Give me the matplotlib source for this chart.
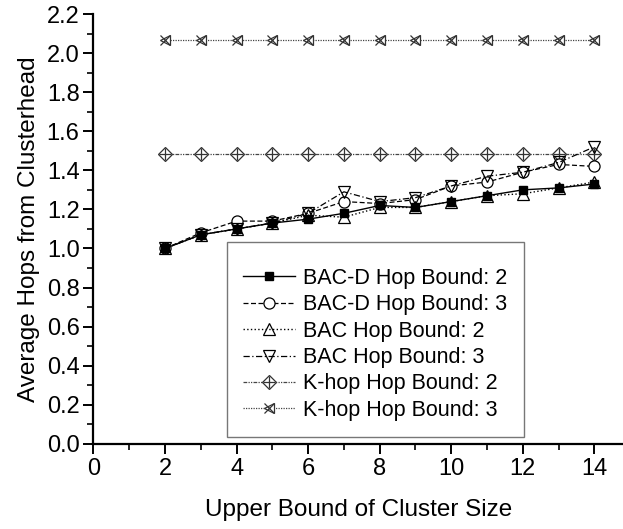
import matplotlib
matplotlib.use("Agg")
import matplotlib.pyplot as plt
from matplotlib.ticker import MultipleLocator, FormatStrFormatter

plt.rcParams['font.family'] = ['Liberation Sans', 'DejaVu Sans']

# Dados
cluster_size = [2, 3, 4, 5, 6, 7, 8, 9, 10, 11, 12, 13, 14]
bacd_hb2 = [1.00, 1.07, 1.10, 1.13, 1.15, 1.18, 1.22, 1.21, 1.24, 1.27, 1.30, 1.31, 1.33]
bacd_hb3 = [1.00, 1.08, 1.14, 1.14, 1.18, 1.24, 1.23, 1.25, 1.32, 1.34, 1.39, 1.43, 1.42]
bac_hb2 = [1.00, 1.07, 1.10, 1.13, 1.17, 1.16, 1.21, 1.21, 1.24, 1.27, 1.28, 1.31, 1.34]
bac_hb3 = [1.00, 1.07, 1.10, 1.13, 1.18, 1.29, 1.24, 1.26, 1.32, 1.37, 1.39, 1.44, 1.52]
khop_hb2 = [1.485] * 13
khop_hb3 = [2.065] * 13

fig = plt.figure(figsize=(6.23, 5.29), dpi=100)
ax = fig.add_axes([0.150, 0.161, 0.850, 0.8125])

ms = 7
ax.plot(cluster_size, bacd_hb2, '-', color='black', lw=1.0, marker='s', ms=ms - 1,
        mfc='black', mec='black', label='BAC-D Hop Bound: 2', zorder=5)
ax.plot(cluster_size, bacd_hb3, '--', color='black', lw=0.9, dashes=(4, 2), marker='o', ms=ms + 1,
        mfc='white', mec='black', mew=0.9, label='BAC-D Hop Bound: 3', zorder=4)
ax.plot(cluster_size, bac_hb2, ':', color='black', lw=1.0, marker='^', ms=ms + 1,
        mfc='none', mec='black', mew=0.9, label='BAC Hop Bound: 2', zorder=6)
ax.plot(cluster_size, bac_hb3, '-.', color='black', lw=0.9, dashes=(5, 2, 1, 2), marker='v', ms=ms + 1,
        mfc='none', mec='black', mew=0.9, label='BAC Hop Bound: 3', zorder=6)

# K-hop: losango com cruz, e X dentro de triângulo
ax.plot(cluster_size, khop_hb2, color='#444444', lw=0.9, dashes=(3, 1, 1, 1, 1, 1), marker='D',
        ms=ms, mfc='white', mec='#333333', mew=0.9, zorder=3)
ax.plot(cluster_size, khop_hb2, 'none', marker='+', ms=ms + 1, mec='#333333', mew=0.9, zorder=3)
ax.plot(cluster_size, khop_hb3, color='#444444', lw=0.9, dashes=(1, 1), marker='<',
        ms=ms, mfc='white', mec='#333333', mew=0.9, zorder=3)
ax.plot(cluster_size, khop_hb3, 'none', marker='x', ms=ms, mec='#333333', mew=0.9, zorder=3)

# Entradas da legenda para K-hop (marcadores compostos)
h_k2a, = ax.plot([], [], color='#444444', lw=0.9, dashes=(3, 1, 1, 1, 1, 1), marker='D',
                 ms=ms, mfc='white', mec='#333333', mew=0.9)
h_k2b, = ax.plot([], [], 'none', marker='+', ms=ms + 1, mec='#333333', mew=0.9)
h_k3a, = ax.plot([], [], color='#444444', lw=0.9, dashes=(1, 1), marker='<',
                 ms=ms, mfc='white', mec='#333333', mew=0.9)
h_k3b, = ax.plot([], [], 'none', marker='x', ms=ms, mec='#333333', mew=0.9)

handles, labels = ax.get_legend_handles_labels()
handles += [(h_k2a, h_k2b), (h_k3a, h_k3b)]
labels += ['K-hop Hop Bound: 2', 'K-hop Hop Bound: 3']

leg = ax.legend(handles, labels, loc='lower left', bbox_to_anchor=(0.364, 0.174),
                bbox_transform=fig.transFigure, fontsize=15.5, frameon=True, fancybox=False,
                edgecolor='#555555', handlelength=2.4, handletextpad=0.4, labelspacing=0.25,
                borderpad=0.75, borderaxespad=0, title=' ', title_fontsize=3)
leg.get_frame().set_linewidth(1.0)

ax.set_xlim(0, 14.8)
ax.set_ylim(0, 2.2)
ax.xaxis.set_major_locator(MultipleLocator(2))
ax.xaxis.set_minor_locator(MultipleLocator(1))
ax.yaxis.set_major_locator(MultipleLocator(0.2))
ax.yaxis.set_minor_locator(MultipleLocator(0.1))
ax.yaxis.set_major_formatter(FormatStrFormatter('%.1f'))

for s in ['top', 'right']:
    ax.spines[s].set_visible(False)
for s in ['left', 'bottom']:
    ax.spines[s].set_linewidth(1.6)

ax.tick_params(which='major', direction='out', length=7, width=1.4, labelsize=17, pad=3)
ax.tick_params(which='minor', direction='out', length=4, width=1.2)

ax.set_xlabel('Upper Bound of Cluster Size', fontsize=17.5, labelpad=14)
ax.set_ylabel('Average Hops from Clusterhead', fontsize=17.5, labelpad=5)

fig.savefig('out.png', dpi=100)
